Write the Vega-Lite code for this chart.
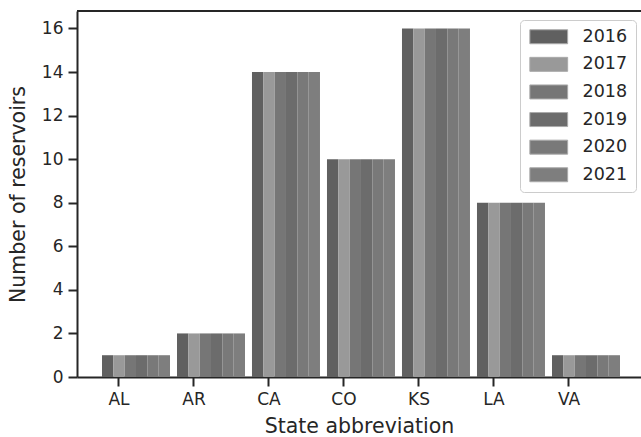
{
  "$schema": "https://vega.github.io/schema/vega-lite/v6.json",
  "width": 564,
  "height": 366,
  "autosize": {"type": "none"},
  "padding": {"left": 77, "top": 11, "right": 0, "bottom": 60},
  "background": "white",
  "config": {
    "view": {"stroke": null},
    "font": "DejaVu Sans",
    "axis": {
      "domainColor": "#262626",
      "domainWidth": 2,
      "tickColor": "#262626",
      "tickWidth": 2,
      "tickSize": 9,
      "labelFontSize": 17,
      "labelColor": "#262626",
      "labelPadding": 5,
      "titleFontSize": 20.5,
      "titleFontWeight": "normal",
      "titleColor": "#262626",
      "grid": false
    }
  },
  "data": {
    "values": [
      {"state": "AL", "year": "2016", "count": 1}, {"state": "AL", "year": "2017", "count": 1}, {"state": "AL", "year": "2018", "count": 1}, {"state": "AL", "year": "2019", "count": 1}, {"state": "AL", "year": "2020", "count": 1}, {"state": "AL", "year": "2021", "count": 1},
      {"state": "AR", "year": "2016", "count": 2}, {"state": "AR", "year": "2017", "count": 2}, {"state": "AR", "year": "2018", "count": 2}, {"state": "AR", "year": "2019", "count": 2}, {"state": "AR", "year": "2020", "count": 2}, {"state": "AR", "year": "2021", "count": 2},
      {"state": "CA", "year": "2016", "count": 14}, {"state": "CA", "year": "2017", "count": 14}, {"state": "CA", "year": "2018", "count": 14}, {"state": "CA", "year": "2019", "count": 14}, {"state": "CA", "year": "2020", "count": 14}, {"state": "CA", "year": "2021", "count": 14},
      {"state": "CO", "year": "2016", "count": 10}, {"state": "CO", "year": "2017", "count": 10}, {"state": "CO", "year": "2018", "count": 10}, {"state": "CO", "year": "2019", "count": 10}, {"state": "CO", "year": "2020", "count": 10}, {"state": "CO", "year": "2021", "count": 10},
      {"state": "KS", "year": "2016", "count": 16}, {"state": "KS", "year": "2017", "count": 16}, {"state": "KS", "year": "2018", "count": 16}, {"state": "KS", "year": "2019", "count": 16}, {"state": "KS", "year": "2020", "count": 16}, {"state": "KS", "year": "2021", "count": 16},
      {"state": "LA", "year": "2016", "count": 8}, {"state": "LA", "year": "2017", "count": 8}, {"state": "LA", "year": "2018", "count": 8}, {"state": "LA", "year": "2019", "count": 8}, {"state": "LA", "year": "2020", "count": 8}, {"state": "LA", "year": "2021", "count": 8},
      {"state": "VA", "year": "2016", "count": 1}, {"state": "VA", "year": "2017", "count": 1}, {"state": "VA", "year": "2018", "count": 1}, {"state": "VA", "year": "2019", "count": 1}, {"state": "VA", "year": "2020", "count": 1}, {"state": "VA", "year": "2021", "count": 1}
    ]
  },
  "layer": [
    {
      "mark": {"type": "bar"},
      "encoding": {
        "x": {
          "field": "state", "type": "nominal",
          "scale": {"paddingInner": 0, "paddingOuter": 0.26, "align": 0.115},
          "axis": {"labelAngle": 0, "title": "State abbreviation", "titlePadding": 9}
        },
        "xOffset": {
          "field": "year", "type": "nominal",
          "scale": {"range": [20.5, 88.5], "paddingInner": 0, "paddingOuter": 0}
        },
        "y": {
          "field": "count", "type": "quantitative",
          "scale": {"domain": [0, 16.8], "nice": false, "zero": true},
          "axis": {"values": [0, 2, 4, 6, 8, 10, 12, 14, 16], "title": "Number of reservoirs", "titleX": -59, "titleBaseline": "middle"}
        },
        "color": {
          "field": "year", "type": "nominal",
          "scale": {"range": ["#606060", "#999999", "#767676", "#6c6c6c", "#797979", "#7e7e7e"]},
          "legend": {
            "orient": "none",
            "legendX": 443,
            "legendY": 9,
            "title": null,
            "padding": 8,
            "strokeColor": "#cccccc",
            "cornerRadius": 4,
            "fillColor": "rgba(255,255,255,0.8)",
            "symbolType": "M-2.7,-1H2.7V1H-2.7Z",
            "symbolSize": 196,
            "symbolOffset": 12,
            "symbolStrokeColor": "#aaaaaa",
            "symbolStrokeWidth": 1,
            "symbolOpacity": 1,
            "labelFontSize": 17.5,
            "labelColor": "#262626",
            "labelOffset": 25,
            "rowPadding": 8.6
          }
        }
      }
    },
    {
      "mark": {"type": "rule", "color": "#262626", "strokeWidth": 2},
      "encoding": {"y": {"datum": 16.8}}
    }
  ]
}
